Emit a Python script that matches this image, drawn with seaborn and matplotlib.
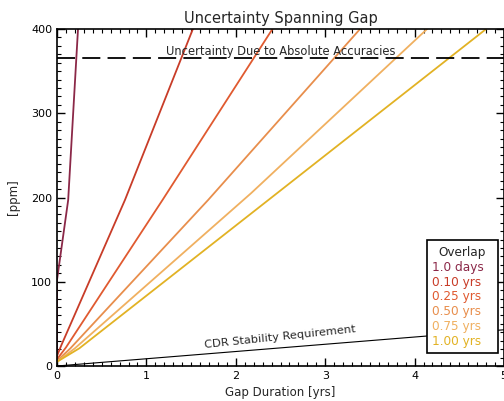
import pandas as pd
import matplotlib
matplotlib.use("Agg")
import matplotlib.pyplot as plt
from matplotlib.ticker import MultipleLocator
import seaborn as sns

# values
overlaps = ["1.0 days", "0.10 yrs", "0.25 yrs", "0.50 yrs", "0.75 yrs", "1.00 yrs"]
colors = ["#8b2848", "#c83c28", "#e05a30", "#e88e4c", "#f0b060", "#e2b224"]

gap_1day = [0.0, 0.0, 0.125, 0.235]
ppm_1day = [8, 102, 197, 400]
gap_010 = [0.0, 0.05, 0.76, 1.52]
ppm_010 = [12, 25, 197, 400]
gap_025 = [0.0, 0.1, 1.18, 2.41]
ppm_025 = [8, 22, 197, 400]
gap_050 = [0.0, 0.15, 1.69, 3.39]
ppm_050 = [6, 21, 197, 400]
gap_075 = [0.0, 0.2, 2.17, 4.14]
ppm_075 = [5, 21, 205, 400]
gap_100 = [0.0, 0.25, 2.4, 4.8]
ppm_100 = [5, 21, 200, 400]

cdr_gap = [0.0, 5.0]
cdr_ppm = [0, 43]

absolute_level = 365

gaps = [gap_1day, gap_010, gap_025, gap_050, gap_075, gap_100]
ppms = [ppm_1day, ppm_010, ppm_025, ppm_050, ppm_075, ppm_100]

rows = []
for name, g, p in zip(overlaps, gaps, ppms):
    for gx, py in zip(g, p):
        rows.append({"overlap": name, "gap": gx, "ppm": py})
df = pd.DataFrame(rows)

sns.set_style("ticks")
plt.rcParams["font.family"] = ["DejaVu Sans"]

fig = plt.figure(figsize=(5.04, 4.01), dpi=100)
ax = fig.add_axes([57 / 504, 35 / 401, 447 / 504, 337 / 401])

sns.lineplot(data=df, x="gap", y="ppm", hue="overlap", hue_order=overlaps,
             palette=colors, estimator=None, sort=False, units="overlap",
             linewidth=1.3, legend=False, ax=ax)

ax.plot(cdr_gap, cdr_ppm, color="black", linewidth=0.8)
ax.axhline(absolute_level, color="black", linewidth=1.3, dashes=(10, 4))

ax.text(2.5, absolute_level + 1, "Uncertainty Due to Absolute Accuracies",
        ha="center", va="bottom", fontsize=8.3)
ax.text(2.5, 34, "CDR Stability Requirement", ha="center", va="center",
        fontsize=8.2, rotation=6)

ax.set_xlim(0, 5)
ax.set_ylim(0, 400)
ax.xaxis.set_major_locator(MultipleLocator(1))
ax.xaxis.set_minor_locator(MultipleLocator(0.1))
ax.yaxis.set_major_locator(MultipleLocator(100))
ax.yaxis.set_minor_locator(MultipleLocator(10))
ax.tick_params(which="both", direction="in", top=True, right=True,
               labelsize=8, colors="black")
ax.tick_params(which="major", length=6, width=1)
ax.tick_params(which="minor", length=3, width=0.8)
for s in ax.spines.values():
    s.set_linewidth(1.2)
    s.set_color("black")

ax.set_title("Uncertainty Spanning Gap", fontsize=10.5, pad=4)
ax.set_xlabel("Gap Duration [yrs]", fontsize=8.5, labelpad=4)
ax.set_ylabel("[ppm]", fontsize=8.5, labelpad=8)

# text-only legend, entries left aligned, extra room on the right
handles = [plt.Line2D([], [], linestyle="none") for _ in overlaps]
leg = ax.legend(handles, overlaps, title="Overlap", loc="lower right",
                bbox_to_anchor=(0.987, 0.038), borderaxespad=0,
                handlelength=0.75, handletextpad=0, markerfirst=False,
                labelcolor=colors, fontsize=8.7, title_fontsize=8.7,
                labelspacing=0.15, borderpad=0.45,
                frameon=True, fancybox=False, edgecolor="black",
                framealpha=1)
leg.get_frame().set_linewidth(1.2)
for col in leg._legend_handle_box.get_children():
    col.align = "left"

fig.savefig("out.png", dpi=100)
